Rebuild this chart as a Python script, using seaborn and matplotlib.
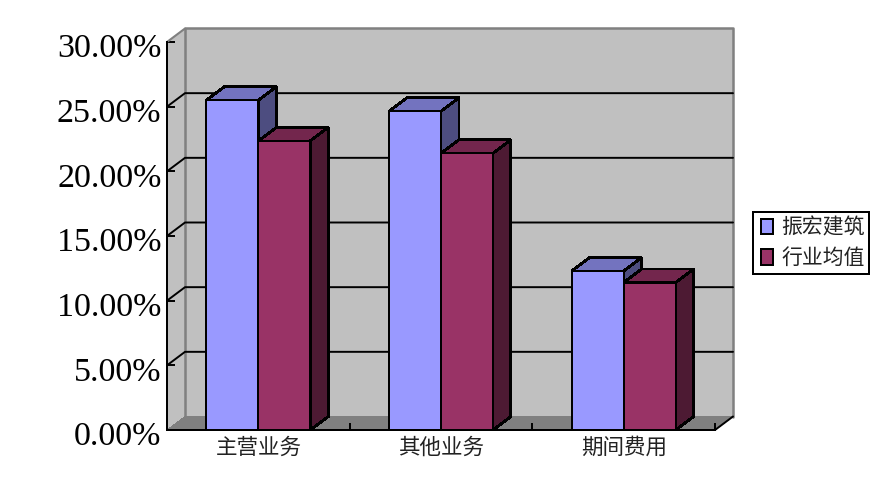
import seaborn as sns
import pandas as pd
import matplotlib.pyplot as plt
from matplotlib.patches import Polygon
from matplotlib.legend_handler import HandlerPatch
from matplotlib.ticker import FuncFormatter, FixedLocator
from matplotlib.transforms import ScaledTranslation
from matplotlib.colors import to_rgb

categories = ["主营业务", "其他业务", "期间费用"]
company = [0.255, 0.2465, 0.123]
industry = [0.2235, 0.214, 0.114]
series_names = ["振宏建筑", "行业均值"]
y_ticks = [0, 0.05, 0.10, 0.15, 0.20, 0.25, 0.30]
colors = ["#9999FF", "#993366"]

sns.set_theme(style="white")
plt.rcParams["font.family"] = ["Liberation Serif", "DejaVu Sans"]
plt.rcParams["patch.antialiased"] = False
cjk = ["Noto Sans CJK SC", "DejaVu Sans"]

df = pd.DataFrame({
    "cat": categories * 2,
    "val": company + industry,
    "series": [series_names[0]] * 3 + [series_names[1]] * 3,
})

fig = plt.figure(figsize=(8.84, 4.86), dpi=100)
ax = fig.add_axes([167 / 884, 56 / 486, 548 / 884, 388 / 486])
ax.patch.set_visible(False)

bar_lw = 1.3
sns.barplot(data=df, x="cat", y="val", hue="series", palette=colors, width=0.568,
            gap=0, edgecolor="black", linewidth=bar_lw, saturation=1, ax=ax)
ax.set_xlim(-0.5, 2.5)
ax.set_ylim(0, 0.30)
ax.set_xlabel("")
ax.set_ylabel("")

# depth of the fake 3d box, in data units
dx = 18 / 548 * 3
dy = 13.5 / 388 * 0.30
left, right = -0.5, 2.5
lw = 1.4

# side wall, back wall, floor
ax.add_patch(Polygon([(left, 0), (left + dx, dy), (left + dx, 0.30 + dy), (left, 0.30)],
                     fc="#C0C0C0", ec="none", zorder=0, clip_on=False))
ax.add_patch(Polygon([(left + dx, dy), (right + dx, dy), (right + dx, 0.30 + dy), (left + dx, 0.30 + dy)],
                     fc="#C0C0C0", ec="none", zorder=0, clip_on=False))
ax.add_patch(Polygon([(left, 0), (right, 0), (right + dx, dy), (left + dx, dy)],
                     fc="#808080", ec="none", zorder=0.5, clip_on=False))
ax.plot([left + dx, left + dx, right + dx, right + dx], [dy, 0.30 + dy, 0.30 + dy, dy],
        color="#808080", lw=1.8, zorder=1, clip_on=False)
ax.plot([left, left + dx], [0.30, 0.30 + dy], color="#808080", lw=1.5, zorder=1, clip_on=False)
ax.plot([right, right + dx], [0, dy], color="black", lw=lw, zorder=1, clip_on=False)

# gridlines on back and side wall
for t in y_ticks[1:-1]:
    ax.plot([left, left + dx, right + dx], [t, t + dy, t + dy], color="black", lw=lw,
            zorder=1.5, clip_on=False)

# bars: seaborn fronts, then side and top faces taken from each bar
bars = sorted([p for p in ax.patches if isinstance(p, plt.Rectangle) and p.get_height() > 0],
              key=lambda p: p.get_x())
for i, b in enumerate(bars):
    x0, x1 = b.get_x(), b.get_x() + b.get_width()
    h = b.get_height()
    rgb = to_rgb(b.get_facecolor()[:3])
    z = 2 + i
    ax.add_patch(Polygon([(x1, 0), (x1 + dx, dy), (x1 + dx, h + dy), (x1, h)],
                         fc=[c * 0.5 for c in rgb], ec="black", lw=bar_lw, zorder=z, clip_on=False))
    ax.add_patch(Polygon([(x0, h), (x0 + dx, h + dy), (x1 + dx, h + dy), (x1, h)],
                         fc=[c * 0.75 for c in rgb], ec="black", lw=bar_lw, zorder=z, clip_on=False))
    b.set_zorder(z + 0.5)
    b.set_clip_on(False)

# axes
sns.despine(ax=ax, top=True, right=True)
for side in ["left", "bottom"]:
    ax.spines[side].set_color("black")
    ax.spines[side].set_linewidth(1.4)
    ax.spines[side].set_zorder(20)

ax.yaxis.set_major_locator(FixedLocator(y_ticks))
ax.yaxis.set_major_formatter(FuncFormatter(lambda v, _: f"{v * 100:.2f}%"))
ax.tick_params(axis="y", direction="in", length=5.5, width=1.4, color="black", pad=4,
               labelsize=24.5, labelcolor="black", left=True, zorder=21)
off = ScaledTranslation(0, -2.5 / 72, fig.dpi_scale_trans)
for lab in ax.get_yticklabels():
    lab.set_transform(lab.get_transform() + off)

ax.xaxis.set_minor_locator(FixedLocator([0.5, 1.5, 2.5]))
ax.tick_params(axis="x", which="major", length=0, pad=5, labelsize=15.5, labelcolor="#222222")
ax.tick_params(axis="x", which="minor", direction="in", length=5, width=1.4, color="black", bottom=True)
for lab in ax.get_xticklabels():
    lab.set_family(cjk)

handles, labels = ax.get_legend_handles_labels()
leg = ax.legend(handles, labels, loc="center", bbox_to_anchor=(811 / 884, 1 - 243 / 486),
                bbox_transform=fig.transFigure, prop={"family": cjk, "size": 15}, fancybox=False,
                framealpha=1, edgecolor="black", handlelength=0.73, handleheight=0.75,
                handletextpad=0.4, labelspacing=0.42, borderpad=0.22, borderaxespad=0,
                handler_map={plt.Rectangle: HandlerPatch(xpad=0.15)})
leg.get_frame().set_linewidth(1.1)
leg.set_zorder(30)
for t in leg.get_texts():
    t.set_color("#222222")

fig.savefig("out.png", dpi=100)
